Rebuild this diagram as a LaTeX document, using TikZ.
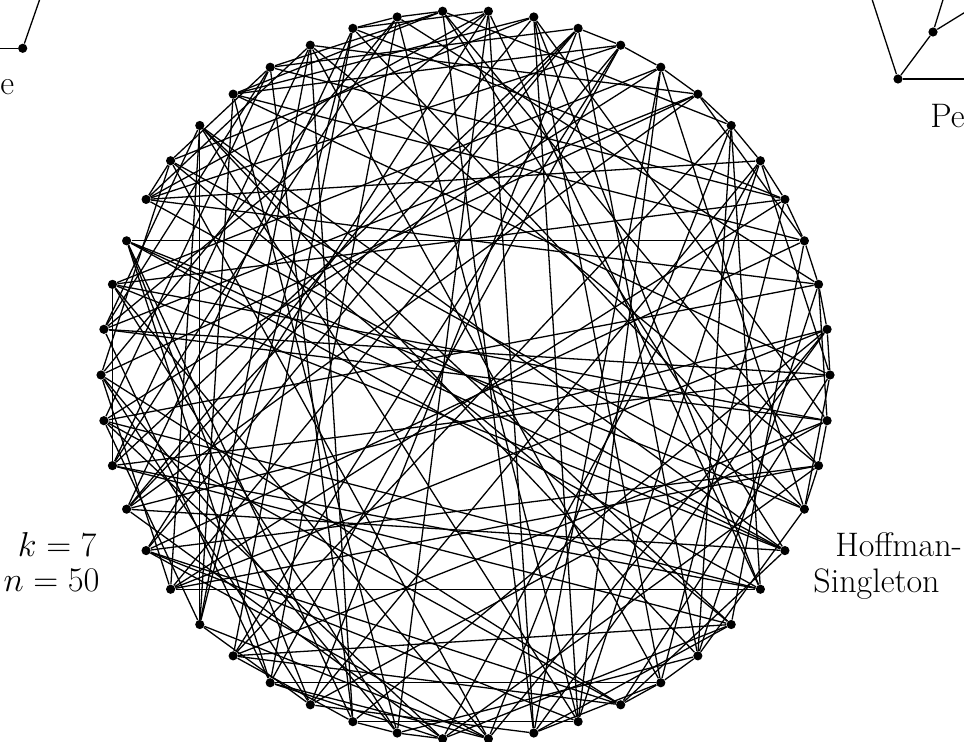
\documentclass[tikz,border=0pt]{standalone}
\usepackage{tikz}
% Robertson labels P_{h,j}, Q_{i,j}; the circle follows a Hamiltonian cycle
\def\eP{{0,0,1,3,1}}
\def\fQ{{0,1,3,1,0}}
\def\kA{{0,4,2,6,8}}
\def\mA{{0,4,2,1,2}}
\def\kB{{7,9,5,3,1}}
\def\mB{{3,2,2,3,1}}
\tikzset{
  vtx/.style={circle, fill, inner sep=0pt, minimum size=4.6pt},
  hsline/.style={line width=0.65pt},
  lbl/.style={font=\fontsize{17}{19}\selectfont, inner sep=0pt},
}
\begin{document}
\begin{tikzpicture}[x=0.5pt, y=-0.5pt]
  \useasboundingbox (0,0) rectangle (964,742);
  \clip (0,0) rectangle (964,742);

  % 50 vertices on the circle
  \foreach \k in {0,...,49}
    \node[vtx] (v\k) at ({465.5+364.5*cos(7.2*\k)}, {375-364.5*sin(7.2*\k)}) {};

  % pentagons, pentagrams and the joins between them
  \foreach \h in {0,...,4}
    \foreach \j in {0,...,4}{
      \pgfmathtruncatemacro\xa{mod(\j-\eP[\h]+5,5)}
      \pgfmathtruncatemacro\xb{mod(\j+1-\eP[\h]+5,5)}
      \pgfmathtruncatemacro\pa{mod(\kA[\xa]+20*(\h-\mA[\xa]+5),50)}
      \pgfmathtruncatemacro\pb{mod(\kA[\xb]+20*(\h-\mA[\xb]+5),50)}
      \pgfmathtruncatemacro\ya{mod(\j-\fQ[\h]+5,5)}
      \pgfmathtruncatemacro\yb{mod(\j+2-\fQ[\h]+5,5)}
      \pgfmathtruncatemacro\qa{mod(\kB[\ya]+20*(\h-\mB[\ya]+5),50)}
      \pgfmathtruncatemacro\qb{mod(\kB[\yb]+20*(\h-\mB[\yb]+5),50)}
      \draw[hsline] (v\pa) -- (v\pb);
      \draw[hsline] (v\qa) -- (v\qb);
      \foreach \i in {0,...,4}{
        \pgfmathtruncatemacro\yc{mod(\h*\i+\j-\fQ[\i]+5,5)}
        \pgfmathtruncatemacro\qc{mod(\kB[\yc]+20*(\i-\mB[\yc]+5),50)}
        \draw[hsline] (v\pa) -- (v\qc);
      }
    }

  \node[lbl, anchor=base east] (kval) at (97,557) {$k=7$};
  \node[lbl, anchor=base east] (nval) at (100,592) {$n=50$};
  \node[lbl, anchor=base west] (hname) at (835,557) {Hoffman-};
  \node[lbl, anchor=base west] (sname) at (813,593) {Singleton};

  % pieces of the neighbouring pictures
  \node[vtx] (la) at (22.7,48.3) {};
  \coordinate (lb) at (-10,48.3);
  \coordinate (lc) at (43,-10);
  \draw[hsline] (la) -- (lb);
  \draw[hsline] (la) -- (lc);
  \node[lbl, anchor=base west] (lname) at (0,95) {e};

  \node[vtx] (ra) at (898,79) {};
  \node[vtx] (rb) at (933,32) {};
  \coordinate (rc) at (869,-10);
  \coordinate (rd) at (946,-10);
  \coordinate (re) at (980,3);
  \coordinate (rf) at (980,79);
  \draw[hsline] (ra) -- (rc);
  \draw[hsline] (ra) -- (rb);
  \draw[hsline] (rb) -- (rd);
  \draw[hsline] (rb) -- (re);
  \draw[hsline] (ra) -- (rf);
  \node[lbl, anchor=base west] (rname) at (930,128) {Pe};
\end{tikzpicture}
\end{document}
